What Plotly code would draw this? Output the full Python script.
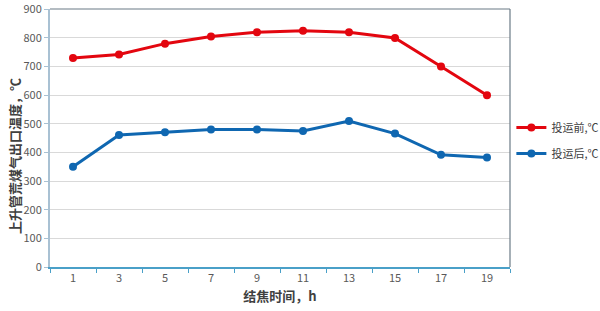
import plotly.graph_objects as go

hours = ["1", "3", "5", "7", "9", "11", "13", "15", "17", "19"]
before = [730, 742, 780, 805, 820, 825, 820, 800, 700, 600]
after = [350, 461, 471, 480, 480, 475, 510, 466, 392, 382]
series_names = ["投运前,℃", "投运后,℃"]
y_ticks = [0, 100, 200, 300, 400, 500, 600, 700, 800, 900]

FONT = "Noto Sans CJK SC"

fig = go.Figure()
fig.add_trace(go.Scatter(x=hours, y=before, name=series_names[0], mode="lines+markers",
                         legendgroup="a",
                         line=dict(color="#e3060f", width=3), marker=dict(size=8, color="#e3060f")))
fig.add_trace(go.Scatter(x=hours, y=after, name=series_names[1], mode="lines+markers",
                         legendgroup="b",
                         line=dict(color="#0f67b1", width=3), marker=dict(size=8, color="#0f67b1")))

fig.update_layout(
    width=600, height=311,
    margin=dict(l=50, r=90, t=9, b=44, autoexpand=False),
    paper_bgcolor="white", plot_bgcolor="white",
    font=dict(family=FONT, color="#595959", size=11),
    showlegend=True,
    legend=dict(x=1.003, xanchor="left", y=0.49, yanchor="middle",
                font=dict(family=FONT, size=11, color="#404040"),
                traceorder="grouped", tracegroupgap=7, itemwidth=30, bgcolor="rgba(0,0,0,0)"),
    xaxis=dict(type="category", range=[-0.5, 9.5], showgrid=False, automargin=False,
               showline=True, linecolor="#4aa0c8", linewidth=1.5,
               ticks="outside", tickson="boundaries", ticklen=4, tickcolor="#4aa0c8",
               tickfont=dict(size=11, color="#595959"),
               title=dict(text="<b>结焦时间，h</b>", font=dict(size=13, color="#404040"), standoff=8)),
    yaxis=dict(range=[0, 901], tickvals=y_ticks, showgrid=True, gridcolor="#d9d9d9", gridwidth=1,
               showline=True, linecolor="#a9c1d3", linewidth=2, zeroline=False, automargin=False,
               ticks="outside", ticklen=4, tickcolor="#a9c1d3", ticklabeloverflow="allow",
               tickfont=dict(size=11, color="#595959")),
    shapes=[
        dict(type="line", xref="paper", yref="paper", x0=0, x1=1, y0=1, y1=1,
             line=dict(color="#6b7b86", width=1.2)),
        dict(type="line", xref="paper", yref="paper", x0=1, x1=1, y0=0, y1=1,
             line=dict(color="#6b7b86", width=1.2)),
    ],
    annotations=[
        dict(text="<b>上升管荒煤气出口温度，℃</b>", xref="paper", yref="paper",
             x=(14 - 50) / 460, xanchor="center", y=0.43, yanchor="middle", textangle=-90,
             showarrow=False, font=dict(family=FONT, size=13, color="#404040")),
    ],
)

fig.write_html("out.html")
